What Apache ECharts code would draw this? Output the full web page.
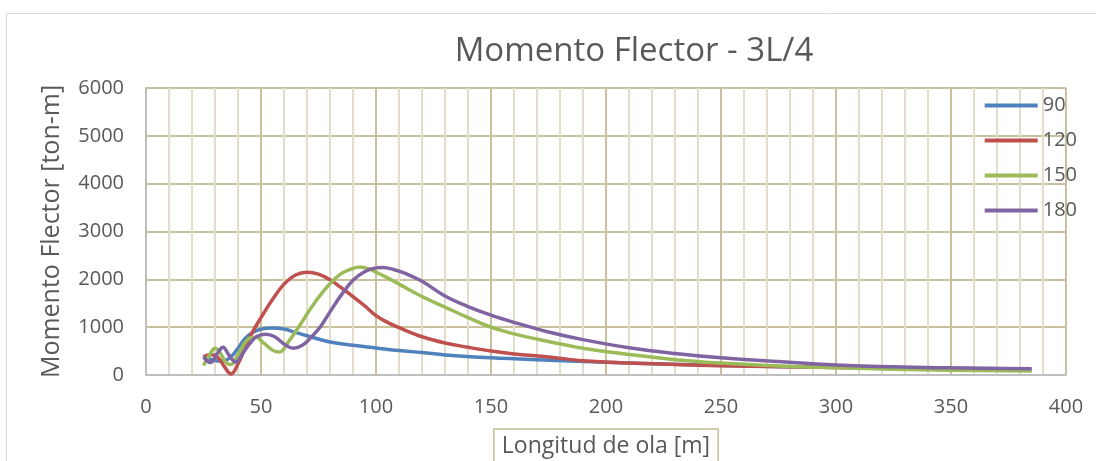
<!DOCTYPE html>
<html>
<head>
<meta charset="utf-8">
<script src="https://cdn.jsdelivr.net/npm/echarts@6/dist/echarts.min.js"></script>
<style>html,body{margin:0;padding:0;background:#fff;}#c{width:1096px;height:461px;}</style>
</head>
<body>
<div id="c"></div>
<script>
const titleText = 'Momento Flector - 3L/4';
const xName = 'Longitud de ola [m]';
const yName = 'Momento Flector [ton-m]';
const seriesNames = ['90', '120', '150', '180'];

const x90 = [25, 28, 31, 34, 37, 40, 43, 46, 50, 55, 60, 65, 70, 80, 90, 100, 110, 120, 130, 150, 175, 200, 225, 250, 275, 300, 325, 350, 385];
const y90 = [370, 330, 295, 300, 380, 560, 760, 880, 960, 985, 960, 890, 820, 690, 620, 565, 510, 470, 420, 360, 310, 265, 230, 200, 180, 160, 150, 140, 125];

const x120 = [25, 28, 31, 34, 37, 40, 42.5, 45, 50, 55, 60, 65, 70, 75, 80, 85, 90, 95, 100, 105, 110, 120, 130, 140, 150, 160, 175, 190, 210, 230, 250, 275, 300, 325, 350, 385];
const y120 = [380, 430, 380, 180, 20, 230, 500, 780, 1200, 1580, 1900, 2090, 2150, 2110, 1990, 1820, 1640, 1450, 1240, 1100, 990, 800, 670, 580, 500, 440, 376, 300, 250, 220, 195, 175, 155, 135, 120, 100];

const x150 = [25, 28, 30, 32, 35, 37, 40, 45, 48, 50, 55, 58, 62, 67, 72, 78, 84, 90, 93, 97, 100, 105, 110, 120, 130, 140, 150, 160, 175, 190, 210, 230, 250, 275, 300, 325, 350, 385];
const y150 = [200, 450, 560, 480, 250, 220, 430, 770, 790, 720, 520, 480, 700, 1050, 1420, 1800, 2090, 2230, 2260, 2220, 2150, 2030, 1900, 1640, 1420, 1200, 1000, 860, 700, 560, 430, 320, 250, 190, 150, 120, 100, 85];

const x180 = [25, 28, 31, 33.5, 36, 39, 42, 45, 48, 52, 56, 60, 64, 68, 72, 76, 80, 85, 90, 95, 100, 103, 108, 113, 120, 130, 140, 150, 160, 175, 190, 210, 230, 250, 275, 300, 325, 350, 385];
const y180 = [380, 260, 450, 580, 420, 270, 450, 650, 800, 850, 800, 650, 560, 620, 800, 1020, 1320, 1680, 1980, 2160, 2240, 2250, 2200, 2120, 1960, 1650, 1430, 1250, 1100, 900, 740, 570, 450, 360, 280, 210, 170, 150, 130];

const colors = ['#4F81BD', '#C0504D', '#9BBB59', '#8064A2'];
const xs = [x90, x120, x150, x180];
const ys = [y90, y120, y150, y180];

const FONT = 'Open Sans';
const TXT = '#595959';

const chart = echarts.init(document.getElementById('c'), null, {renderer: 'canvas'});
chart.setOption({
  animation: false,
  backgroundColor: '#fff',
  color: colors,
  title: {
    text: titleText,
    left: 629, top: 30, textAlign: 'center',
    textStyle: {fontFamily: FONT, fontSize: 33, fontWeight: 'normal', color: TXT}
  },
  graphic: [{
    type: 'rect', left: 4, top: 11, z: -1,
    shape: {width: 1110, height: 470},
    style: {fill: 'none', stroke: '#d9d9d9', lineWidth: 1}
  }],
  legend: {
    orient: 'vertical', right: 14, top: 90,
    icon: 'rect', itemWidth: 53, itemHeight: 4, itemGap: 14,
    textStyle: {fontFamily: FONT, fontSize: 20, color: TXT, lineHeight: 21, padding: [0, 0, 0, 0]},
    data: seriesNames
  },
  grid: {left: 146, right: 30, top: 88, bottom: 86, outerBoundsMode: 'none', containLabel: false},
  xAxis: {
    type: 'value', min: 0, max: 400, interval: 50,
    name: xName, nameLocation: 'middle', nameGap: 54,
    nameTextStyle: {fontFamily: FONT, fontSize: 23, color: TXT, borderColor: '#c4bd97', borderWidth: 1.5, padding: [6, 8, 14, 8]},
    axisLine: {show: true, lineStyle: {color: '#bfbfbf', width: 2}},
    axisTick: {show: false},
    minorTick: {show: false, splitNumber: 5},
    axisLabel: {fontFamily: FONT, fontSize: 20, color: TXT, margin: 22},
    splitLine: {show: true, lineStyle: {color: '#c9c19b', width: 2}},
    minorSplitLine: {show: true, lineStyle: {color: '#e2dec9', width: 2}}
  },
  yAxis: {
    type: 'value', min: 0, max: 6000, interval: 1000,
    name: yName, nameLocation: 'middle', nameGap: 82, nameRotate: 90,
    nameTextStyle: {fontFamily: FONT, fontSize: 25, color: TXT},
    axisLine: {show: true, lineStyle: {color: '#bfbfbf', width: 2}},
    axisTick: {show: false},
    axisLabel: {fontFamily: FONT, fontSize: 20, color: TXT, margin: 22, formatter: v => String(v)},
    splitLine: {show: true, lineStyle: {color: '#c9c19b', width: 2}}
  },
  series: seriesNames.map((n, i) => ({
    name: n, type: 'line', smooth: 0.4, showSymbol: false,
    lineStyle: {width: 3.5, color: colors[i]},
    itemStyle: {color: colors[i]},
    data: xs[i].map((x, j) => [x, ys[i][j]])
  }))
});
</script>
</body>
</html>
